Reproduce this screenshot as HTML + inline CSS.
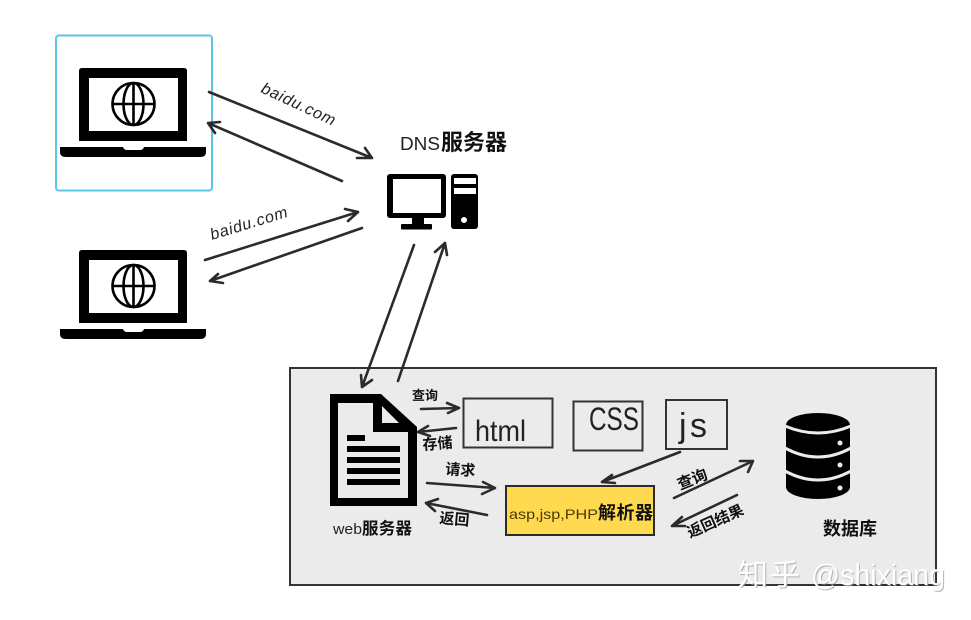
<!DOCTYPE html>
<html><head><meta charset="utf-8"><style>
html,body{margin:0;padding:0;background:#fff}
svg{display:block}
text{font-family:"Liberation Sans","Noto Sans CJK SC",sans-serif}
.b{font-weight:700;fill:#111}
.h{font-family:"Liberation Sans","Noto Sans CJK SC",sans-serif;fill:#222}
.a{stroke:#2b2b2b;stroke-width:2.6;fill:none;stroke-linecap:round;stroke-linejoin:round}
</style></head><body>
<svg width="971" height="620" viewBox="0 0 971 620" xmlns="http://www.w3.org/2000/svg">
<defs>
<g id="laptop">
<path d="M79 71q0-3 3-3H184q3 0 3 3V141H79Z" fill="#000"/>
<rect x="89" y="78" width="89" height="53" fill="#fff"/>
<path d="M60 147H123q1 3 4 3H140q3 0 4-3H206V152q0 5-6 5H66q-6 0-6-5Z" fill="#000"/>
<g fill="none" stroke="#000" stroke-width="2.600">
<circle cx="133.500" cy="104" r="21"/>
<ellipse cx="133.500" cy="104" rx="10" ry="21"/>
<path d="M133.500 83V125M112.500 104H154.500"/>
</g>
</g>
</defs>
<rect width="971" height="620" fill="#fff"/>
<rect x="56" y="35.500" width="156" height="155" rx="3" fill="#fff" stroke="#5cc5ea" stroke-width="2"/>
<use href="#laptop"/>
<use href="#laptop" y="182"/>

<rect x="290" y="368" width="646" height="217" fill="#ebebeb" stroke="#333" stroke-width="2"/>

<!-- Monitor and tower -->
<rect x="387" y="174" width="59" height="44" rx="3" fill="#000"/>
<rect x="393" y="179" width="48" height="34" fill="#fff"/>
<rect x="412" y="218" width="12" height="7" fill="#000"/>
<rect x="401" y="224" width="31" height="5.500" rx="1" fill="#000"/>
<rect x="451" y="174" width="27" height="55" rx="3" fill="#000"/>
<rect x="454" y="178" width="22" height="6" fill="#fff"/>
<rect x="454" y="188" width="22" height="6" fill="#fff"/>
<circle cx="464" cy="220" r="3" fill="#fff"/>

<!-- Document -->
<path d="M330 394H381L417 427V506H330Z" fill="#000"/>
<path d="M338 403H373V432H408V498H338Z" fill="#ebebeb"/>
<path d="M382 406L399 423H382Z" fill="#ebebeb"/>
<rect x="347" y="435" width="18" height="6" fill="#000"/>
<rect x="347" y="446" width="53" height="6" fill="#000"/>
<rect x="347" y="457" width="53" height="6" fill="#000"/>
<rect x="347" y="468" width="53" height="6" fill="#000"/>
<rect x="347" y="479" width="53" height="6" fill="#000"/>

<!-- Boxes -->
<rect x="463.500" y="398.500" width="89" height="49" fill="#ebebeb" stroke="#333" stroke-width="2"/>
<rect x="573.500" y="401.500" width="69" height="49" fill="#ebebeb" stroke="#333" stroke-width="2"/>
<rect x="666" y="400" width="61" height="49" fill="#ebebeb" stroke="#333" stroke-width="2"/>
<rect x="506" y="486" width="148" height="49" fill="#ffd94f" stroke="#2b2b2b" stroke-width="2"/>

<!-- Database -->
<path d="M786 425A32 12 0 0 1 850 425V487A32 12 0 0 1 786 487Z" fill="#000"/>
<g fill="none" stroke="#ebebeb" stroke-width="3">
<path d="M785 426Q818 440 851 426"/>
<path d="M785 448Q818 466 851 448"/>
<path d="M785 471Q818 489 851 471"/>
</g>
<g fill="#ebebeb"><circle cx="840" cy="443" r="2.500"/><circle cx="840" cy="465" r="2.500"/><circle cx="840" cy="488" r="2.500"/></g>

<!-- Arrows -->
<g class="a">
<path d="M209 92L372 158M365 148L372 158L357 158"/>
<path d="M342 181L208 123M220 122L208 123L215 133"/>
<path d="M205 260L358 212M345 209L358 212L348 221"/>
<path d="M362 228L210 281M218 274L210 281L223 283"/>
<path d="M414 245L362 387M361 375L362 387L372 380"/>
<path d="M398 381L445 243M435 252L445 243L447 255"/>
<path d="M421 409L459 408M447 403L459 408L448 413"/>
<path d="M456 428L418 432M428 426L418 432L430 436"/>
<path d="M427 483L495 488M483 482L495 488L482 494"/>
<path d="M487 515L426 503M438 499L426 503L435 511"/>
<path d="M680 452L602 482M612 475L602 482L615 483"/>
<path d="M674 498L753 461M740 461L753 461L748 472"/>
<path d="M737 495L672 526M682 517L672 526L685 526"/>
</g>

<!-- Handwritten-style labels -->
<text class="h" transform="translate(260 92) rotate(25)" font-size="16" font-style="italic" textLength="80">baidu.com</text>
<text class="h" transform="translate(212 240) rotate(-17)" font-size="16" font-style="italic" textLength="80">baidu.com</text>
<text class="h" x="400" y="150" font-size="18" textLength="40" lengthAdjust="spacingAndGlyphs">DNS</text>
<text class="b" x="441" y="150" font-size="22" textLength="66">服务器</text>
<text class="h" x="475" y="441" font-size="30" textLength="51" lengthAdjust="spacingAndGlyphs">html</text>
<text class="h" x="589" y="430" font-size="32" textLength="50" lengthAdjust="spacingAndGlyphs">CSS</text>
<text class="h" x="679" y="437" font-size="34" textLength="28">js</text>
<text class="h" x="509" y="519" font-size="14" textLength="89" lengthAdjust="spacingAndGlyphs" style="fill:#4a3a00">asp,jsp,PHP</text>
<text class="b" x="598" y="519" font-size="18" textLength="55">解析器</text>
<text class="h" x="333" y="534" font-size="15" textLength="29" lengthAdjust="spacingAndGlyphs">web</text>
<text class="b" x="362" y="534" font-size="16.500" textLength="50">服务器</text>
<text class="b" x="412" y="400" font-size="13">查询</text>
<text class="b" transform="translate(423 450) rotate(-5)" font-size="15">存储</text>
<text class="b" x="445" y="474" font-size="15" transform="rotate(4 445 474)">请求</text>
<text class="b" x="439" y="523" font-size="15" transform="rotate(5 439 523)">返回</text>
<text class="b" transform="translate(680 490) rotate(-22)" font-size="15.500">查询</text>
<text class="b" transform="translate(690 538) rotate(-24)" font-size="15">返回结果</text>
<text class="b" x="823" y="535" font-size="18">数据库</text>

<!-- Watermark -->
<g font-size="30" font-weight="400">
<text x="739" y="586" fill="#9a9a9a" opacity=".7" textLength="62">知乎</text>
<text x="812" y="586" fill="#9a9a9a" opacity=".7" textLength="134" lengthAdjust="spacingAndGlyphs">@shixiang</text>
<text x="738" y="585" fill="#fff" textLength="62">知乎</text>
<text x="811" y="585" fill="#fff" textLength="134" lengthAdjust="spacingAndGlyphs">@shixiang</text>
</g>
</svg>
</body></html>
